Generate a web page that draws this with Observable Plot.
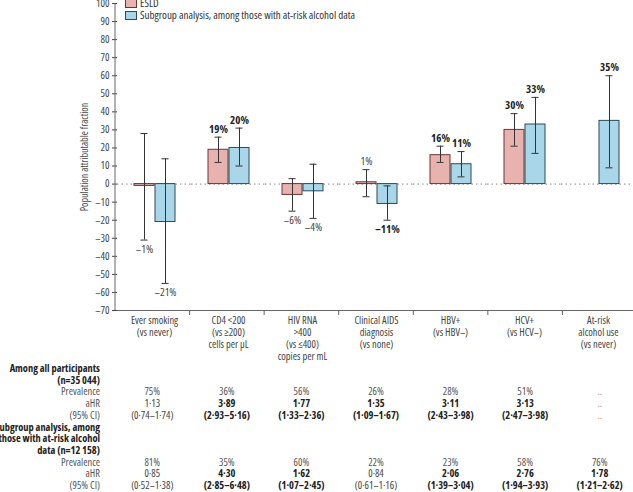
<!DOCTYPE html>
<html>
<head>
<meta charset="utf-8">
<script src="https://cdn.jsdelivr.net/npm/d3@7"></script>
<script src="https://cdn.jsdelivr.net/npm/@observablehq/plot@0.6"></script>
<style>
  html, body { margin: 0; padding: 0; background: #fff; }
  #wrap { position: relative; width: 633px; height: 492px; overflow: hidden; font-family: "Open Sans", sans-serif; font-stretch: 80%; font-size: 10.4px; color: #444; }
  .cell { position: absolute; white-space: nowrap; line-height: 12px; }
  .b { font-weight: bold; color: #222; }
  .lg { position: absolute; white-space: nowrap; line-height: 12px; font-size: 11px; font-stretch: 80%; }
  .sw { position: absolute; width: 10px; height: 7px; }
</style>
</head>
<body>
<div id="wrap"></div>
<script>
const FONT = '"Open Sans", sans-serif';

// categories and axis labels
const categories = ["Ever smoking", "CD4 <200", "HIV RNA >400", "Clinical AIDS", "HBV+", "HCV+", "At-risk alcohol use"];
const categoryLabels = [
  "Ever smoking\n(vs never)",
  "CD4 <200\n(vs ≥200)\ncells per µL",
  "HIV RNA\n>400\n(vs ≤400)\ncopies per mL",
  "Clinical AIDS\ndiagnosis\n(vs none)",
  "HBV+\n(vs HBV–)",
  "HCV+\n(vs HCV–)",
  "At-risk\nalcohol use\n(vs never)"
];
const seriesKeys = ["ESLD", "Subgroup"];
const seriesNames = ["ESLD", "Subgroup analysis, among those with at-risk alcohol data"];
const seriesFill = ["#e8b2ae", "#a9d7e9"];
const seriesStroke = ["#6e3434", "#2c4a58"];

// population attributable fraction (%), with 95% CI
const esldValue = [-1, 19, -6, 1, 16, 30, null];
const esldLow   = [-31, 12, -15, -7, 12, 21, null];
const esldHigh  = [28, 26, 3, 8, 21, 39, null];
const esldSig   = [false, true, false, false, true, true, false];
const subValue  = [-21, 20, -4, -11, 11, 33, 35];
const subLow    = [-55, 10, -19, -20, 4, 17, 9];
const subHigh   = [14, 31, 11, -1, 18, 48, 60];
const subSig    = [false, true, false, true, true, true, true];

// y ticks
const yTicks = [-70, -60, -50, -40, -30, -20, -10, 0, 10, 20, 30, 40, 50, 60, 70, 80, 90, 100];

// table below chart
const allPrevalence = ["75%", "36%", "56%", "26%", "28%", "51%", ".."];
const allAHR = ["1·13", "3·89", "1·77", "1·35", "3·11", "3·13", ".."];
const allCI = ["(0·74–1·74)", "(2·93–5·16)", "(1·33–2·36)", "(1·09–1·67)", "(2·43–3·98)", "(2·47–3·98)", ".."];
const allBold = [false, true, true, true, true, true, false];
const subPrevalence = ["81%", "35%", "60%", "22%", "23%", "58%", "76%"];
const subAHR = ["0·85", "4·30", "1·62", "0·84", "2·06", "2·76", "1·78"];
const subCI = ["(0·52–1·38)", "(2·85–6·48)", "(1·07–2·45)", "(0·61–1·16)", "(1·39–3·04)", "(1·94–3·93)", "(1·21–2·62)"];
const subBold = [false, true, true, false, true, true, true];

// build rows
const rows = [];
categories.forEach((c, i) => {
  if (esldValue[i] != null) rows.push({cat: c, s: "ESLD", v: esldValue[i], lo: esldLow[i], hi: esldHigh[i], sig: esldSig[i]});
  rows.push({cat: c, s: "Subgroup", v: subValue[i], lo: subLow[i], hi: subHigh[i], sig: subSig[i]});
});
const fmtPct = v => (v < 0 ? "–" + Math.abs(v) : String(v)) + "%";
const labelMark = (filter, dy, bold) => Plot.text(rows.filter(filter), {
  fx: "cat", x: "s", y: d => d.v >= 0 ? d.hi : d.lo, text: d => fmtPct(d.v),
  dy, fontWeight: bold ? "bold" : "normal", fill: bold ? "#222" : "#444", fontSize: 11
});

const plot = Plot.plot({
  width: 633,
  height: 362,
  marginTop: 3,
  marginBottom: 52,
  marginLeft: 115,
  marginRight: -4,
  style: {fontFamily: FONT, fontSize: "10.6px", fontStretch: "80%", color: "#444", background: "white", overflow: "visible"},
  fx: {domain: categories, padding: 0, axis: null},
  x: {domain: seriesKeys, paddingInner: 0.05, paddingOuter: 0.75, axis: null},
  y: {domain: [-70, 100], ticks: yTicks, tickSize: 5, tickPadding: 3,
      tickFormat: d => d < 0 ? "–" + Math.abs(d) : String(d),
      label: "Population attributable fraction", labelAnchor: "center", labelOffset: 37, labelArrow: false},
  marks: [
    Plot.axisFx({anchor: "bottom", tickSize: 0, tickPadding: 5, lineHeight: 1.15, fontSize: 10.4, label: null,
      tickFormat: c => categoryLabels[categories.indexOf(c)]}),
    Plot.ruleY([0], {stroke: "#888", strokeDasharray: "1.5,3", strokeWidth: 1}),
    Plot.ruleY([-70], {stroke: "#666", strokeWidth: 1}),
    Plot.barY(rows, {fx: "cat", x: "s", y: "v",
      fill: d => seriesFill[seriesKeys.indexOf(d.s)],
      stroke: d => seriesStroke[seriesKeys.indexOf(d.s)], strokeWidth: 1}),
    Plot.ruleX(rows, {fx: "cat", x: "s", y1: "lo", y2: "hi", stroke: "#333", strokeWidth: 1}),
    Plot.tickY(rows, {fx: "cat", x: "s", y: "lo", stroke: "#333", strokeWidth: 1, insetLeft: 6.5, insetRight: 6.5}),
    Plot.tickY(rows, {fx: "cat", x: "s", y: "hi", stroke: "#333", strokeWidth: 1, insetLeft: 6.5, insetRight: 6.5}),
    labelMark(d => d.v >= 0 && d.sig, -8, true),
    labelMark(d => d.v >= 0 && !d.sig, -8, false),
    labelMark(d => d.v < 0 && d.sig, 9, true),
    labelMark(d => d.v < 0 && !d.sig, 9, false)
  ]
});

const wrap = document.getElementById("wrap");
wrap.appendChild(plot);

// scale helpers
const fxS = plot.scale("fx");
const yS = plot.scale("y");
const fx0 = fxS.range[0], fxStep = (fxS.range[1] - fxS.range[0]) / fxS.domain.length;
const center = i => fx0 + fxStep * (i + 0.5);
const svg = d3.select(plot);
// smaller y-axis title
svg.selectAll('g[aria-label="y-axis label"] text').style("font-size", "10px");
// y axis line
svg.append("line").attr("x1", fx0).attr("x2", fx0)
  .attr("y1", yS.apply(100)).attr("y2", yS.apply(-70)).attr("stroke", "#666");
// category boundary ticks
for (let i = 1; i <= categories.length; i++) {
  svg.append("line").attr("x1", fx0 + fxStep * i).attr("x2", fx0 + fxStep * i)
    .attr("y1", yS.apply(-70)).attr("y2", yS.apply(-70) + 5).attr("stroke", "#666");
}

// legend
seriesNames.forEach((name, i) => {
  const yc = 3 + i * 12;
  const sw = document.createElement("div");
  sw.className = "sw";
  sw.style.left = (fx0 + 10) + "px";
  sw.style.top = (yc - 4) + "px";
  sw.style.background = seriesFill[i];
  sw.style.border = "1px solid " + seriesStroke[i];
  wrap.appendChild(sw);
  const t = document.createElement("div");
  t.className = "lg";
  t.style.left = (fx0 + 25) + "px";
  t.style.top = (yc - 6) + "px";
  t.style.color = "#333";
  t.textContent = name;
  wrap.appendChild(t);
});

// table
const tableRows = [
  {label: "Among all participants", head: true},
  {label: "(n=35 044)", head: true},
  {label: "Prevalence", vals: allPrevalence, bold: null},
  {label: "aHR", vals: allAHR, bold: allBold},
  {label: "(95% CI)", vals: allCI, bold: allBold},
  {label: "Subgroup analysis, among", head: true},
  {label: "those with at-risk alcohol", head: true},
  {label: "data (n=12 158)", head: true},
  {label: "Prevalence", vals: subPrevalence, bold: null},
  {label: "aHR", vals: subAHR, bold: subBold},
  {label: "(95% CI)", vals: subCI, bold: subBold}
];
const tableTop = 362;
const rowH = 11.7;
tableRows.forEach((r, k) => {
  const top = tableTop + k * rowH;
  const lab = document.createElement("div");
  lab.className = "cell" + (r.head ? " b" : "");
  lab.style.right = (633 - (fx0 - 15)) + "px";
  lab.style.top = top + "px";
  if (!r.head) lab.style.color = "#555";
  lab.textContent = r.label;
  wrap.appendChild(lab);
  if (r.vals) {
    r.vals.forEach((v, i) => {
      const c = document.createElement("div");
      const isBold = r.bold && r.bold[i];
      c.className = "cell" + (isBold ? " b" : "");
      c.style.left = (center(i) - 50) + "px";
      c.style.width = "100px";
      c.style.textAlign = "center";
      c.style.top = top + "px";
      if (!isBold) c.style.color = r.bold ? "#444" : "#555";
      if (v === "..") c.style.color = "#999";
      c.textContent = v;
      wrap.appendChild(c);
    });
  }
});
</script>
</body>
</html>
